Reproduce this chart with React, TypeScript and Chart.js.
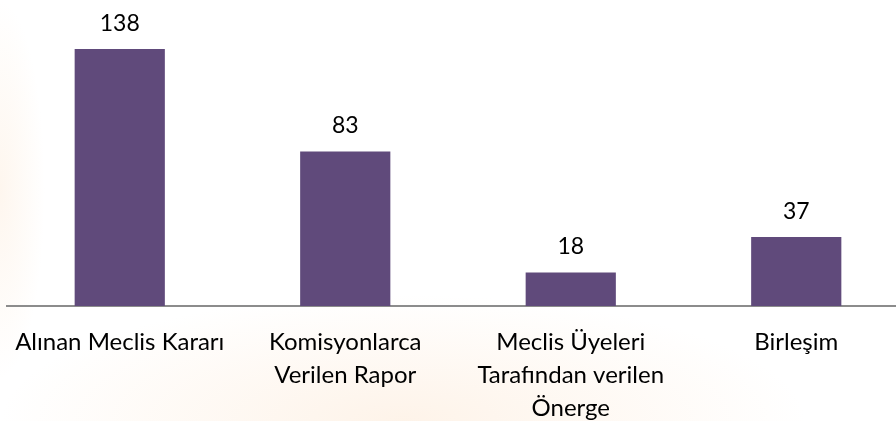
import React, { useEffect, useRef } from "react";
import { Chart, registerables } from "chart.js";

Chart.register(...registerables);

const categories: string[][] = [
  ["Alınan Meclis Kararı"],
  ["Komisyonlarca", "Verilen Rapor"],
  ["Meclis Üyeleri", "Tarafından verilen", "Önerge"],
  ["Birleşim"],
];
const values: number[] = [138, 83, 18, 37];

const FONT = "Lato, 'Open Sans', sans-serif";

const valueLabels = {
  id: "valueLabels",
  afterDatasetsDraw(chart: any) {
    const ctx = chart.ctx;
    const meta = chart.getDatasetMeta(0);
    ctx.save();
    ctx.fillStyle = "#000";
    ctx.font = `23px ${FONT}`;
    ctx.textAlign = "center";
    ctx.textBaseline = "alphabetic";
    meta.data.forEach((bar: any, i: number) => {
      ctx.fillText(String(values[i]), bar.x, bar.y - 18);
    });
    ctx.restore();
  },
};

export default function App() {
  const ref = useRef<HTMLCanvasElement>(null);
  useEffect(() => {
    if (!ref.current) return;
    const chart = new Chart(ref.current, {
      type: "bar",
      data: {
        labels: categories,
        datasets: [
          {
            data: values,
            backgroundColor: "#604a7b",
            barPercentage: 0.4,
            categoryPercentage: 1,
          },
        ],
      },
      options: {
        animation: false,
        responsive: false,
        maintainAspectRatio: false,
        layout: { padding: { left: 7, right: 0, top: 0, bottom: 0 } },
        plugins: { legend: { display: false }, tooltip: { enabled: false } },
        scales: {
          y: { display: false, min: 0, max: 164.3 },
          x: {
            grid: { display: false, drawTicks: false },
            border: { display: true, color: "#8c8c8c", width: 2 },
            ticks: {
              color: "#000",
              font: { family: FONT, size: 24, lineHeight: 1.375 },
              padding: 20,
              maxRotation: 0,
              autoSkip: false,
            },
            afterFit: (scale: any) => {
              scale.height = 115;
              scale.paddingLeft = 0;
              scale.paddingRight = 0;
            },
          },
        },
      },
      plugins: [valueLabels],
    });
    return () => chart.destroy();
  }, []);
  return (
    <div
      style={{
        position: "fixed",
        left: 0,
        top: 0,
        width: 896,
        height: 421,
        overflow: "hidden",
        background:
          "radial-gradient(ellipse 45% 30% at 45% 100%, rgba(252,226,200,0.4), rgba(255,255,255,0) 100%), radial-gradient(ellipse 5% 45% at 0% 45%, rgba(252,226,200,0.3), rgba(255,255,255,0) 100%), #fff",
      }}
    >
      <canvas ref={ref} width={909} height={421} style={{ display: "block" }} />
    </div>
  );
}
